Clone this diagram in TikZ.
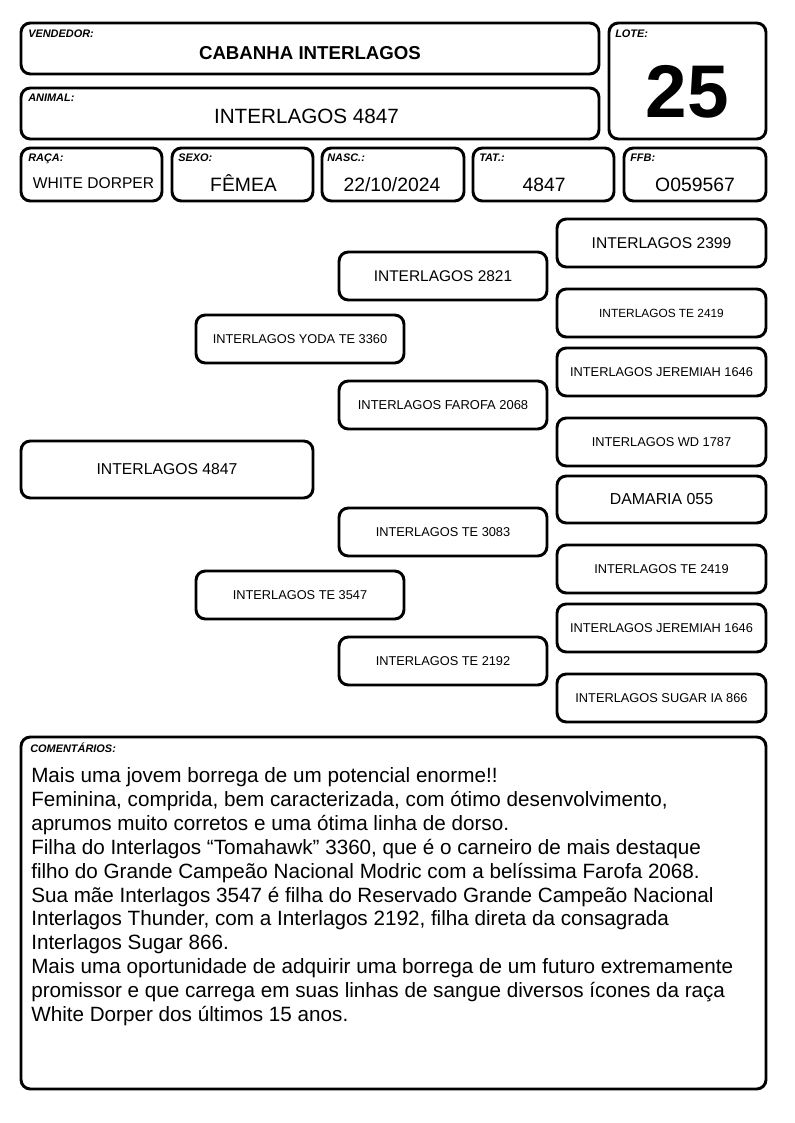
\documentclass[tikz,border=0pt]{standalone}
\usepackage{fontspec}
\setmainfont{Liberation Sans}
\newcommand{\fs}[1]{\fontsize{#1}{1.2\dimexpr #1pt\relax}\selectfont}
\tikzset{
  frame/.style={draw=black, line width=2.2pt, rounded corners=7pt, fill=white, inner sep=0pt},
  lbl/.style={anchor=base west, inner sep=0pt, font=\fs{8.2}\bfseries\itshape},
  val/.style={anchor=base, inner sep=0pt},
}
% \bx{name}{x1}{y1}{x2}{y2}{fontsize}{text}
\newcommand{\bx}[7]{\node[frame, minimum width={(#4-#2)*0.75pt}, minimum height={(#5-#3)*0.75pt}, font=\fs{#6}] (#1) at ({(#2+#4)/2},{(#3+#5)/2}) {#7};}
\begin{document}
\begin{tikzpicture}[x=0.75pt,y=-0.75pt]
\useasboundingbox[fill=white] (0,0) rectangle (794,1123);
% header boxes
\bx{vend}{21}{23}{599}{74}{8}{}
\bx{anim}{21}{88}{599}{139}{8}{}
\bx{lote}{609}{23}{766}{139}{8}{}
\bx{raca}{21}{148}{162}{201}{8}{}
\bx{sexo}{172}{148}{313}{201}{8}{}
\bx{nasc}{322}{148}{464}{201}{8}{}
\bx{tat}{473}{148}{614}{201}{8}{}
\bx{ffb}{624}{148}{766}{201}{8}{}
\node[lbl] (vendL) at (28,38) {VENDEDOR:};
\node[lbl] (animL) at (28,102) {ANIMAL:};
\node[lbl] (loteL) at (615,38) {LOTE:};
\node[lbl] (racaL) at (28,162) {RAÇA:};
\node[lbl] (sexoL) at (178,162) {SEXO:};
\node[lbl] (nascL) at (327,162) {NASC.:};
\node[lbl] (tatL) at (479,162) {TAT.:};
\node[lbl] (ffbL) at (630,162) {FFB:};
\node[val, font=\fs{14}\bfseries] (vendV) at (310,60) {CABANHA INTERLAGOS};
\node[val, font=\fs{15.5}] (animV) at (306.5,124) {INTERLAGOS 4847};
\node[val, font=\fs{56}\bfseries] (loteV) at (687.5,117.5) {25};
\node[val, font=\fs{11.7}] (racaV) at (93.5,189) {WHITE DORPER};
\node[val, font=\fs{14.5}] (sexoV) at (243.5,192) {FÊMEA};
\node[val, font=\fs{14.5}] (nascV) at (392,192) {22/10/2024};
\node[val, font=\fs{14.5}] (tatV) at (544,192) {4847};
\node[val, font=\fs{14.5}] (ffbV) at (695,192) {O059567};
% pedigree
\bx{p0}{21}{441}{313}{498}{11.8}{INTERLAGOS 4847}
\bx{p1}{196}{315}{404}{363}{9.6}{INTERLAGOS YODA TE 3360}
\bx{p2}{196}{571}{404}{619}{9.6}{INTERLAGOS TE 3547}
\bx{p11}{339}{252}{547}{300}{11.6}{INTERLAGOS 2821}
\bx{p12}{339}{381}{547}{429}{9.7}{INTERLAGOS FAROFA 2068}
\bx{p21}{339}{508}{547}{556}{9.6}{INTERLAGOS TE 3083}
\bx{p22}{339}{637}{547}{685}{9.6}{INTERLAGOS TE 2192}
\bx{p111}{557}{219}{766}{267}{11.7}{INTERLAGOS 2399}
\bx{p112}{557}{289}{766}{337}{8.9}{INTERLAGOS TE 2419}
\bx{p121}{557}{348}{766}{396}{9.6}{INTERLAGOS JEREMIAH 1646}
\bx{p122}{557}{418}{766}{466}{9.6}{INTERLAGOS WD 1787}
\bx{p211}{557}{476}{766}{523}{11.9}{DAMARIA 055}
\bx{p212}{557}{545}{766}{593}{9.6}{INTERLAGOS TE 2419}
\bx{p221}{557}{604}{766}{652}{9.6}{INTERLAGOS JEREMIAH 1646}
\bx{p222}{557}{674}{766}{722}{9.6}{INTERLAGOS SUGAR IA 866}
% comments
\bx{com}{21}{737}{766}{1089}{8}{}
\node[lbl] (comL) at (30,752) {COMENTÁRIOS:};
\node[anchor=north west, inner sep=0pt, align=left, font=\fontsize{15.5}{17.93}\selectfont] (comT) at (31,767.3) {Mais uma jovem borrega de um potencial enorme!!\\
Feminina, comprida, bem caracterizada, com ótimo desenvolvimento,\\
aprumos muito corretos e uma ótima linha de dorso.\\
Filha do Interlagos “Tomahawk” 3360, que é o carneiro de mais destaque\\
filho do Grande Campeão Nacional Modric com a belíssima Farofa 2068.\\
Sua mãe Interlagos 3547 é filha do Reservado Grande Campeão Nacional\\
Interlagos Thunder, com a Interlagos 2192, filha direta da consagrada\\
Interlagos Sugar 866.\\
Mais uma oportunidade de adquirir uma borrega de um futuro extremamente\\
promissor e que carrega em suas linhas de sangue diversos ícones da raça\\
White Dorper dos últimos 15 anos.};
\end{tikzpicture}
\end{document}
